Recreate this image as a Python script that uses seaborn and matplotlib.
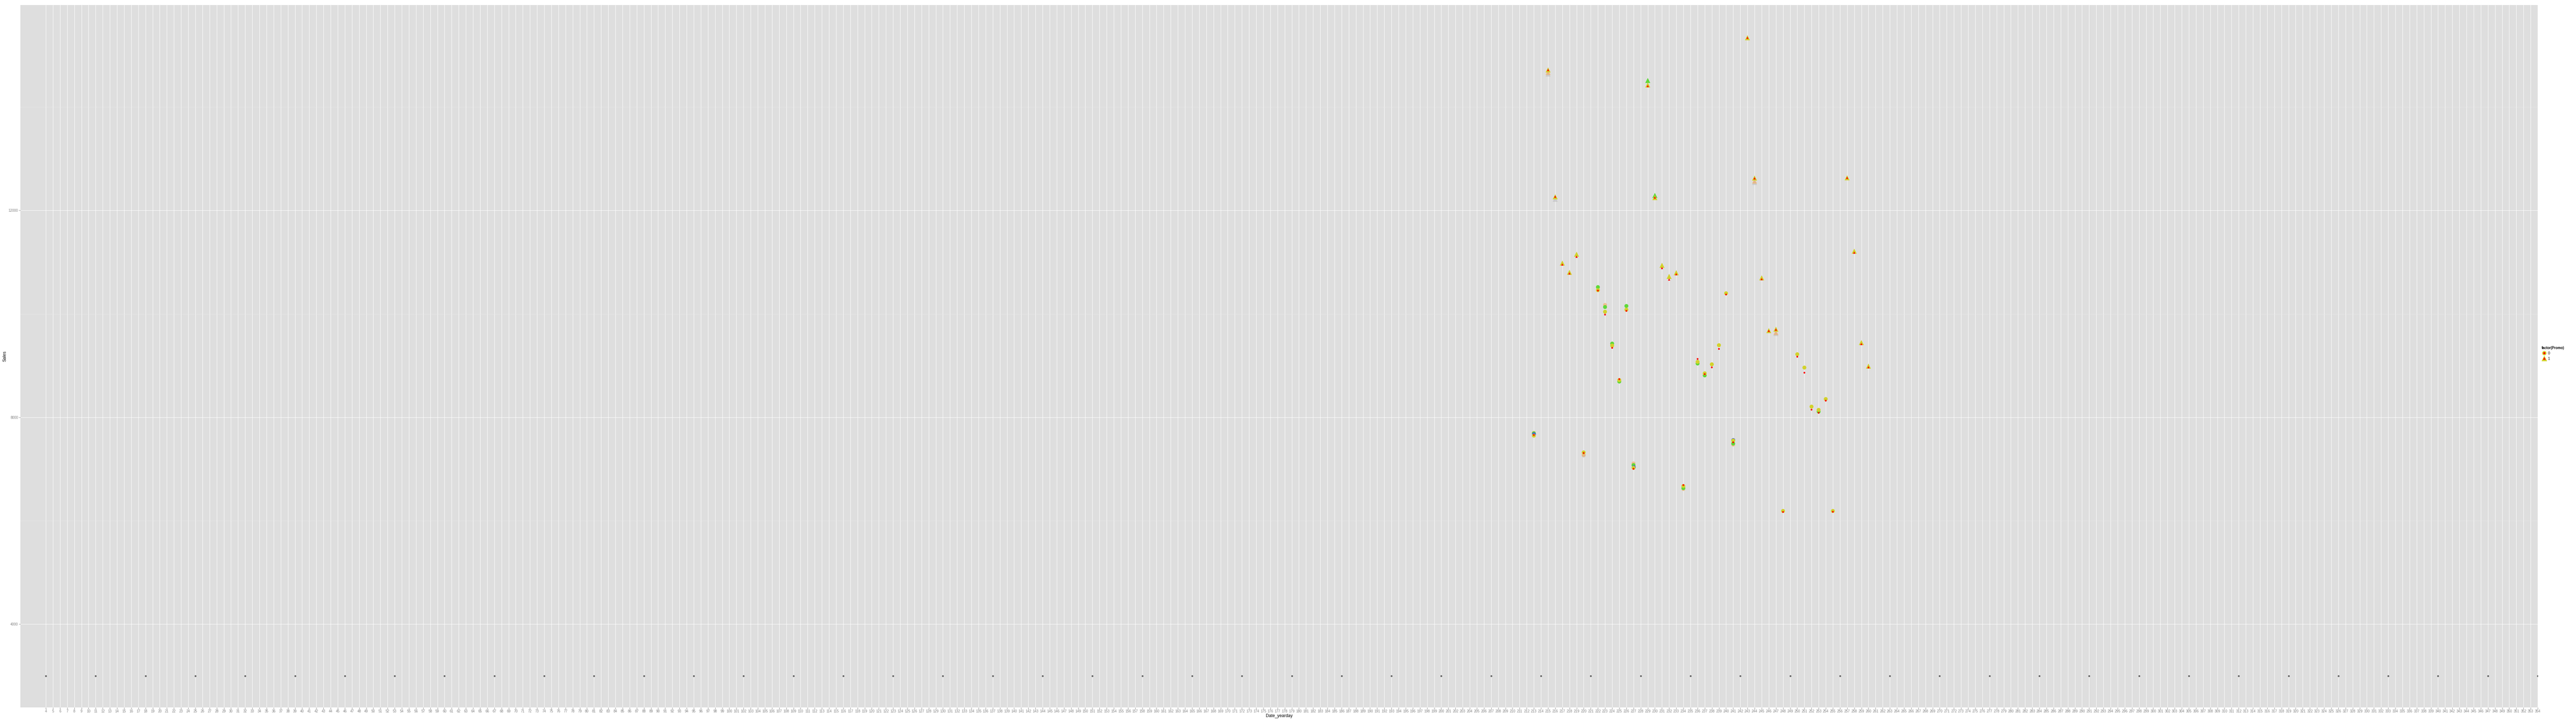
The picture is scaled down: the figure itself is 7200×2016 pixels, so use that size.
import matplotlib
matplotlib.use("Agg")
import matplotlib.pyplot as plt
import seaborn as sns
import pandas as pd
from matplotlib.lines import Line2D

# day of year for the open days shown
days = [213, 215, 216, 217, 218, 219, 220, 222, 223, 224, 225, 226, 227,
        229, 230, 231, 232, 233, 234, 236, 237, 238, 239, 240, 241,
        243, 244, 245, 246, 247, 248, 250, 251, 252, 253, 254, 255,
        257, 258, 259, 260]
promo = [0, 1, 1, 1, 1, 1, 0, 0, 0, 0, 0, 0, 0,
         1, 1, 1, 1, 1, 0, 0, 0, 0, 0, 0, 0,
         1, 1, 1, 1, 1, 0, 0, 0, 0, 0, 0, 0,
         1, 1, 1, 1]
sales = [7645, 14717, 12264, 10982, 10803, 11153, 7321, 10458, 10041, 9386, 8719, 10081, 7023,
         14426, 12248, 10938, 10724, 10795, 6670, 9072, 8850, 9024, 9394, 10398, 7551,
         15339, 12626, 10696, 9676, 9703, 6189, 9219, 8961, 8206, 8143, 8353, 6189,
         12631, 11212, 9445, 8989]
pred = [7658, 14717, 12267, 10954, 10783, 11105, 7309, 10450, 9985, 9342, 8738, 10057, 7003,
        14405, 12251, 10887, 10664, 10767, 6690, 9128, 8834, 8965, 9322, 10374, 7516,
        15339, 12621, 10672, 9672, 9695, 6169, 9171, 8862, 8147, 8087, 8321, 6173,
        12631, 11184, 9417, 8969]

# other model predictions (only where they show)
green_days = [213, 222, 223, 224, 225, 226, 227, 229, 230, 234, 236, 237, 241, 253]
green_promo = [0, 0, 0, 0, 0, 0, 0, 1, 1, 0, 0, 0, 0, 0]
green_vals = [7690, 10517, 10132, 9425, 8691, 10152, 7075, 14513, 12290, 6630, 9040, 8810, 7492, 8110]

orange_days = [213, 215, 220, 223, 227, 234, 241, 244, 247]
orange_promo = [0, 1, 0, 0, 0, 0, 0, 1, 1]
orange_vals = [7700, 14670, 7273, 10172, 7107, 6614, 7472, 12568, 9640]

grey_days = [215, 216, 220, 244, 247]
grey_promo = [1, 1, 0, 1, 1]
grey_vals = [14638, 12216, 7260, 12541, 9620]

blue_days = [213, 227, 241]
blue_vals = [7670, 7040, 7565]

closed_days = [4, 11, 18, 25, 32, 39, 46, 53, 60, 67, 74, 81, 88, 95, 102, 109, 116,
               123, 130, 137, 144, 151, 158, 165, 172, 179, 186, 193, 200, 207, 214,
               221, 228, 235, 242, 249, 256, 263, 270, 277, 284, 291, 298, 305, 312,
               319, 326, 333, 340, 347, 354]
closed_level = 3000

df = pd.DataFrame({"Date_yearday": days, "Promo": promo, "Sales": sales, "Pred": pred})
dg = pd.DataFrame({"Date_yearday": green_days, "Promo": green_promo, "Sales": green_vals})
do = pd.DataFrame({"Date_yearday": orange_days, "Promo": orange_promo, "Sales": orange_vals})
dgr = pd.DataFrame({"Date_yearday": grey_days, "Promo": grey_promo, "Sales": grey_vals})
db = pd.DataFrame({"Date_yearday": blue_days, "Sales": blue_vals})
dc = pd.DataFrame({"Date_yearday": closed_days})
dc["Sales"] = closed_level

plt.rcParams["font.family"] = ["Liberation Sans", "DejaVu Sans"]

W, H = 7200, 2016
fig = plt.figure(figsize=(W / 72, H / 72), dpi=72)
ax = fig.add_axes([57 / W, 38 / H, (7093 - 57) / W, (1978 - 14) / H])
ax.set_facecolor("#DEDEDE")
for s in ax.spines.values():
    s.set_visible(False)

marks = {0: "o", 1: "^"}
big = {0: 121, 1: 200}
small = {0: 25, 1: 40}

sns.scatterplot(data=dc, x="Date_yearday", y="Sales", color="#6A6A6A", s=28,
                linewidth=0, legend=False, ax=ax, zorder=3)
sns.scatterplot(data=dgr, x="Date_yearday", y="Sales", style="Promo", markers=marks,
                size="Promo", sizes=big, color="#BDBDBD", alpha=0.6, linewidth=0,
                legend=False, ax=ax, zorder=3)
sns.scatterplot(data=do, x="Date_yearday", y="Sales", style="Promo", markers=marks,
                size="Promo", sizes=big, color="#F7A95A", alpha=0.6, linewidth=0,
                legend=False, ax=ax, zorder=3)
sns.scatterplot(data=dg, x="Date_yearday", y="Sales", style="Promo", markers=marks,
                size="Promo", sizes=big, color="#5FD93A", linewidth=0,
                legend=False, ax=ax, zorder=3)
sns.scatterplot(data=db, x="Date_yearday", y="Sales", color="#3A5BE0", s=121,
                linewidth=0, legend=False, ax=ax, zorder=3)
sns.scatterplot(data=df, x="Date_yearday", y="Sales", style="Promo", markers=marks,
                size="Promo", sizes=big, color="#D2D22C", linewidth=0,
                legend=False, ax=ax, zorder=4)
sns.scatterplot(data=df, x="Date_yearday", y="Pred", style="Promo", markers=marks,
                size="Promo", sizes=small, color="#FF0000", linewidth=0,
                legend=False, ax=ax, zorder=5)

ax.set_xlim(0.43, 354)
ax.set_ylim(2390, 15972)
ax.set_xticks(range(4, 355))
ax.set_xticklabels([str(d) for d in range(4, 355)])
ax.set_yticks([4000, 8000, 12000])
ax.set_yticks([6000, 10000, 14000], minor=True)
ax.grid(which="major", color="white", linewidth=1.1, zorder=0)
ax.grid(which="minor", axis="y", color="#ECECEC", linewidth=0.6, zorder=0)
ax.set_axisbelow(True)
ax.tick_params(axis="both", which="major", labelsize=9.6, labelcolor="#7F7F7F",
               color="#7F7F7F", length=4.5, width=1, pad=2)
ax.tick_params(axis="y", which="minor", length=0)
ax.set_xlabel("Date_yearday", fontsize=12, labelpad=1)
ax.set_ylabel("Sales", fontsize=12, labelpad=4)

handles = [
    (Line2D([], [], marker="o", ls="", color="#D2D22C", markersize=11),
     Line2D([], [], marker="o", ls="", color="#FF0000", markersize=5)),
    (Line2D([], [], marker="^", ls="", color="#D2D22C", markersize=14),
     Line2D([], [], marker="^", ls="", color="#FF0000", markersize=6)),
]
fig.legend(handles, ["0", "1"], title="factor(Promo)", loc="upper left",
           bbox_to_anchor=(7104 / W, 1 - 968 / H), frameon=False, fontsize=9.6,
           title_fontproperties={"weight": "bold", "size": 9.6}, alignment="left",
           handlelength=1.4, handletextpad=0.4, labelspacing=0.5, borderpad=0,
           borderaxespad=0)

fig.savefig("out.png", dpi=72)
